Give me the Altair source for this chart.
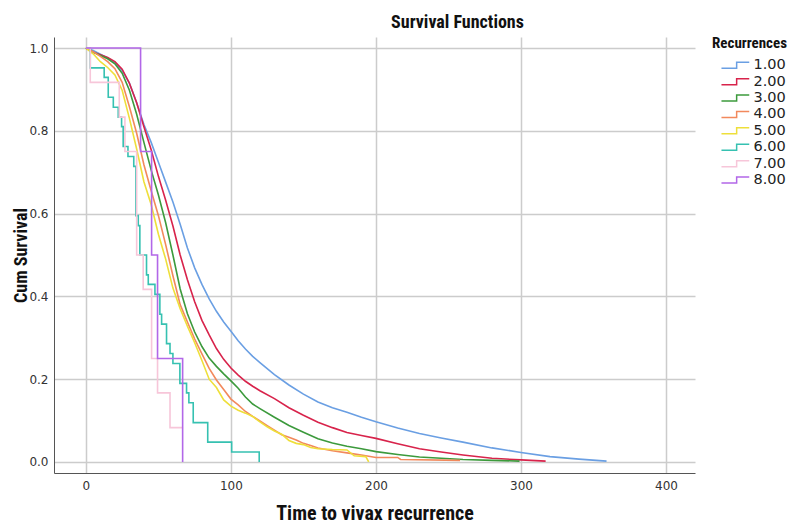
import altair as alt
import pandas as pd

groups = ["1.00", "2.00", "3.00", "4.00", "5.00", "6.00", "7.00", "8.00"]
colors = ["#6A9FE3", "#D8234B", "#3C9A3C", "#F2895C", "#EEDF3A", "#36C1B1", "#F7C6D9", "#B267E8"]

# smooth-looking Kaplan-Meier curves (many events)
t1 = [0, 5, 10, 15, 20, 25, 30, 35, 40, 45, 50, 55, 60, 65, 70, 75, 80, 85, 90, 95, 100, 105, 110, 115, 120,
      130, 140, 150, 160, 170, 180, 190, 200, 215, 230, 245, 260, 280, 300, 320, 340, 359]
s1 = [1.0, 0.994, 0.985, 0.976, 0.965, 0.946, 0.915, 0.868, 0.815, 0.772, 0.724, 0.676, 0.628, 0.574, 0.517,
      0.469, 0.429, 0.394, 0.364, 0.338, 0.316, 0.293, 0.273, 0.255, 0.24, 0.211, 0.186, 0.164, 0.145, 0.131,
      0.12, 0.108, 0.097, 0.082, 0.069, 0.058, 0.048, 0.034, 0.023, 0.013, 0.007, 0.002]

t2 = [0, 5, 10, 15, 20, 25, 30, 35, 40, 45, 50, 55, 60, 65, 70, 75, 80, 85, 90, 95, 100, 105, 110, 115, 120,
      130, 140, 150, 160, 170, 180, 190, 200, 215, 230, 245, 260, 280, 300, 317]
s2 = [1.0, 0.99, 0.984, 0.977, 0.967, 0.949, 0.915, 0.868, 0.81, 0.754, 0.69, 0.632, 0.57, 0.5, 0.44,
      0.387, 0.342, 0.307, 0.274, 0.248, 0.227, 0.21, 0.195, 0.183, 0.172, 0.153, 0.131, 0.113, 0.096, 0.083,
      0.071, 0.064, 0.057, 0.044, 0.032, 0.024, 0.017, 0.009, 0.005, 0.002]

t3 = [0, 5, 10, 15, 20, 25, 30, 35, 40, 45, 50, 55, 60, 65, 70, 75, 80, 85, 90, 95, 100, 105, 110, 115, 120,
      130, 140, 150, 160, 170, 180, 190, 200, 215, 230, 245, 260, 280, 299]
s3 = [1.0, 0.99, 0.982, 0.974, 0.962, 0.939, 0.898, 0.84, 0.772, 0.705, 0.645, 0.578, 0.5, 0.418, 0.358,
      0.314, 0.279, 0.251, 0.231, 0.213, 0.196, 0.178, 0.157, 0.14, 0.129, 0.108, 0.088, 0.072, 0.056, 0.046,
      0.038, 0.032, 0.025, 0.018, 0.012, 0.009, 0.006, 0.004, 0.002]

t4 = [0, 5, 10, 15, 20, 25, 30, 35, 40, 45, 50, 55, 60, 65, 70, 75, 80, 85, 90, 95, 100, 105, 110, 115, 120,
      125, 130, 135, 140, 145, 150, 155, 160, 170, 180, 190, 200, 215, 217, 258]
s4 = [1.0, 0.991, 0.98, 0.967, 0.95, 0.917, 0.858, 0.794, 0.718, 0.655, 0.595, 0.525, 0.45, 0.38, 0.338,
      0.297, 0.261, 0.226, 0.198, 0.175, 0.152, 0.138, 0.122, 0.11, 0.099, 0.088, 0.077, 0.066, 0.06, 0.053,
      0.045, 0.04, 0.034, 0.027, 0.022, 0.017, 0.011, 0.011, 0.006, 0.004]

t5 = [0, 5, 10, 15, 20, 25, 30, 35, 40, 45, 50, 55, 60, 65, 70, 75, 80, 85, 90, 95, 100, 105, 110, 115, 120,
      125, 130, 135, 140, 145, 150, 155, 160, 170, 180, 185, 193, 195]
s5 = [1.0, 0.986, 0.967, 0.953, 0.935, 0.898, 0.83, 0.756, 0.677, 0.622, 0.55, 0.49, 0.42, 0.37, 0.328,
      0.288, 0.245, 0.2, 0.18, 0.15, 0.135, 0.125, 0.118, 0.11, 0.097, 0.085, 0.075, 0.067, 0.052, 0.045,
      0.042, 0.035, 0.032, 0.03, 0.029, 0.015, 0.013, 0.0]

# few-event curves drawn as steps
t6 = [0, 3, 12.6, 15.4, 18.9, 22.3, 24.6, 25.7, 29, 33, 34.5, 36.1, 37.2, 41.8, 43, 47.6, 51, 52.2, 55.6,
      58, 60, 64.8, 69.4, 71, 74, 84, 100.5, 119.5]
s6 = [1.0, 0.952, 0.929, 0.881, 0.857, 0.833, 0.81, 0.762, 0.738, 0.714, 0.595, 0.571, 0.5, 0.452, 0.429,
      0.405, 0.357, 0.333, 0.286, 0.262, 0.238, 0.19, 0.167, 0.143, 0.095, 0.048, 0.024, 0.0]

t7 = [0, 3, 23, 26.9, 35, 39.5, 45.3, 49.4, 58, 67]
s7 = [1.0, 0.917, 0.833, 0.75, 0.5, 0.417, 0.25, 0.167, 0.083, 0.083]

t8 = [0, 37.7, 45.3, 49.4, 66.7]
s8 = [1.0, 0.75, 0.5, 0.25, 0.0]

series_t = [t1, t2, t3, t4, t5, t6, t7, t8]
series_s = [s1, s2, s3, s4, s5, s6, s7, s8]

rows = []
for g, ts, ss in zip(groups, series_t, series_s):
    for i, (t, s) in enumerate(zip(ts, ss)):
        rows.append({"t": t, "s": s, "g": g, "i": i})
df = pd.DataFrame(rows)

x_ticks = [0, 100, 200, 300, 400]
y_ticks = [0.0, 0.2, 0.4, 0.6, 0.8, 1.0]

label_font = "DejaVu Sans"
title_font = "Liberation Sans Narrow, Roboto Condensed, Liberation Sans"

x = alt.X("t:Q", scale=alt.Scale(domain=[-22, 420], nice=False, zero=False),
          axis=alt.Axis(values=x_ticks, title="Time to vivax recurrence", labelPadding=7,
                        titlePadding=12, format="d"))
y = alt.Y("s:Q", scale=alt.Scale(domain=[-0.0266, 1.0266], nice=False, zero=False),
          axis=alt.Axis(values=y_ticks, title="Cum Survival", format=".1f", labelPadding=6,
                        titleX=-24, titleFontSize=18))
color = alt.Color("g:N", scale=alt.Scale(domain=groups, range=colors),
                  legend=alt.Legend(title="Recurrences", orient="none", legendX=658, legendY=-1,
                                    symbolType="M0.37,0.5H2.9V-0.5H5", symbolSize=144,
                                    symbolStrokeWidth=1.5, symbolFillColor="transparent",
                                    labelOffset=27, rowPadding=1.4, padding=0,
                                    labelFontSize=14.5, labelFont=label_font, labelColor="#222",
                                    titleFontSize=15, titleFont=title_font, titleFontWeight="bold",
                                    titleColor="#111", titlePadding=7))

smooth = alt.Chart(df).transform_filter(
    alt.FieldOneOfPredicate(field="g", oneOf=groups[:5])
).mark_line(interpolate="linear", strokeWidth=1.6).encode(x=x, y=y, color=color, order="i:Q")

steps = alt.Chart(df).transform_filter(
    alt.FieldOneOfPredicate(field="g", oneOf=groups[5:])
).mark_line(interpolate="step-after", strokeWidth=1.6).encode(x=x, y=y, color=color, order="i:Q")

chart = alt.layer(smooth, steps).properties(
    width=641, height=436,
    title=alt.TitleParams("Survival Functions", font=title_font, fontSize=18, fontWeight="bold",
                          color="#111", anchor="middle", dx=83, offset=4),
    padding={"left": 46, "top": 29, "right": 94, "bottom": 51},
    autosize="none",
).configure_view(stroke=None).configure_axis(
    domainColor="#555", domainWidth=1, ticks=False, tickSize=0,
    gridColor="#cccccc", gridWidth=1.5,
    labelFont=label_font, labelFontSize=12, labelColor="#333",
    titleFont=title_font, titleFontSize=20, titleFontWeight="bold", titleColor="#111",
)

chart.save("out.html", embed_options={"renderer": "svg", "actions": False})
